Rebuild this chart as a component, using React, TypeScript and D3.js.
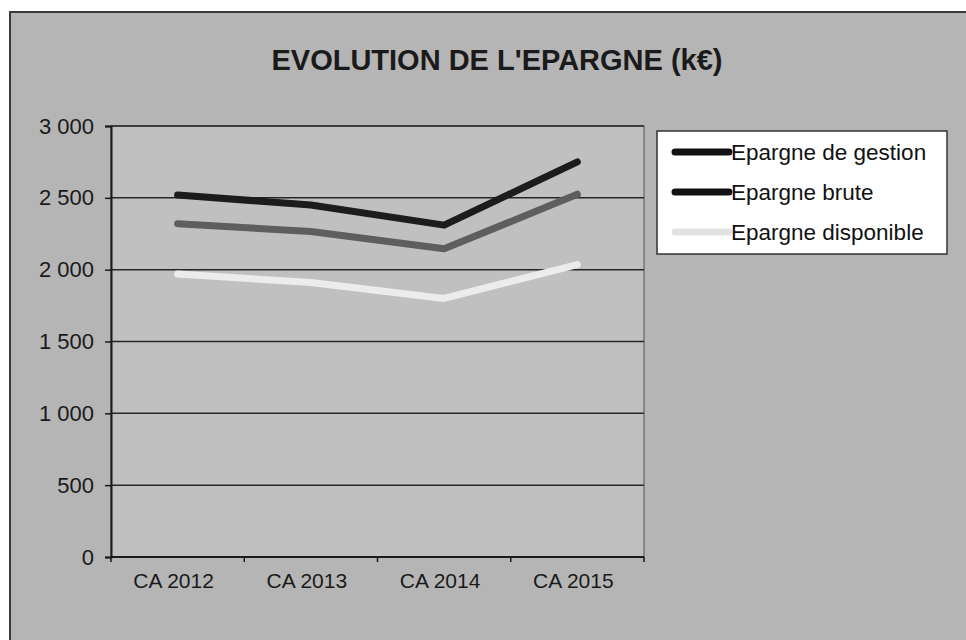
import React, { useEffect, useRef } from "react";
import * as d3 from "d3";

const categories = ["CA 2012", "CA 2013", "CA 2014", "CA 2015"];
const seriesNames = ["Epargne de gestion", "Epargne brute", "Epargne disponible"];
const gestion = [2520, 2450, 2310, 2750];
const brute = [2320, 2265, 2145, 2525];
const disponible = [1970, 1910, 1800, 2035];
const yTicks = [0, 500, 1000, 1500, 2000, 2500, 3000];

const lineColors = ["#1c1c1c", "#5e5e5e", "#ececec"];
const legendColors = ["#111111", "#111111", "#e2e2e2"];

const App = () => {
  const svgRef = useRef<SVGSVGElement>(null);

  useEffect(() => {
    const width = 966;
    const height = 640;
    const margin = { top: 126, right: 322, bottom: 83, left: 111 };

    const svg = d3.select(svgRef.current).attr("width", width).attr("height", height);
    svg.selectAll("*").remove();

    const font = "'Liberation Sans', Arial, sans-serif";

    // outer chart frame
    svg.append("rect").attr("x", 0).attr("y", 0).attr("width", width).attr("height", height).attr("fill", "#fff");
    svg
      .append("rect")
      .attr("x", 10)
      .attr("y", 12)
      .attr("width", width + 10)
      .attr("height", height)
      .attr("fill", "#b5b5b5")
      .attr("stroke", "#3a3a3a")
      .attr("stroke-width", 2);

    svg
      .append("text")
      .attr("x", 497)
      .attr("y", 70)
      .attr("text-anchor", "middle")
      .attr("font-family", font)
      .attr("font-weight", "bold")
      .attr("font-size", 29)
      .attr("fill", "#1a1a1a")
      .text("EVOLUTION DE L'EPARGNE (k€)");

    const x = d3
      .scaleBand()
      .domain(categories)
      .range([margin.left, width - margin.right]);
    const y = d3
      .scaleLinear()
      .domain([0, 3000])
      .range([height - margin.bottom, margin.top]);

    // plot area
    svg
      .append("rect")
      .attr("x", margin.left)
      .attr("y", margin.top)
      .attr("width", width - margin.right - margin.left)
      .attr("height", height - margin.bottom - margin.top)
      .attr("fill", "#c0c0c0")
      .attr("stroke", "#555")
      .attr("stroke-width", 1);

    svg
      .append("g")
      .selectAll("line")
      .data(yTicks)
      .enter()
      .append("line")
      .attr("x1", margin.left)
      .attr("x2", width - margin.right)
      .attr("y1", (d) => y(d))
      .attr("y2", (d) => y(d))
      .attr("stroke", "#262626")
      .attr("stroke-width", 1.5);

    const fmt = (d: number) => d3.format(",")(d).replace(",", " ");
    const yAxis = svg
      .append("g")
      .attr("transform", `translate(${margin.left},0)`)
      .call(d3.axisLeft(y).tickValues(yTicks).tickSize(6).tickPadding(11).tickFormat((d) => fmt(d as number)));
    yAxis.select(".domain").attr("stroke", "#1a1a1a").attr("stroke-width", 2);
    yAxis.selectAll(".tick line").attr("stroke", "#1a1a1a").attr("stroke-width", 1.5);
    yAxis
      .selectAll(".tick text")
      .attr("font-family", font)
      .attr("font-size", 22)
      .attr("fill", "#1a1a1a");

    const bounds = [...categories.map((c) => x(c) as number), width - margin.right];
    svg
      .append("line")
      .attr("x1", margin.left)
      .attr("x2", width - margin.right)
      .attr("y1", y(0))
      .attr("y2", y(0))
      .attr("stroke", "#1a1a1a")
      .attr("stroke-width", 2);
    svg
      .append("g")
      .selectAll("line")
      .data(bounds)
      .enter()
      .append("line")
      .attr("x1", (d) => d)
      .attr("x2", (d) => d)
      .attr("y1", y(0))
      .attr("y2", y(0) + 5)
      .attr("stroke", "#1a1a1a")
      .attr("stroke-width", 1.5);
    svg
      .append("g")
      .selectAll("text")
      .data(categories)
      .enter()
      .append("text")
      .attr("x", (d) => (x(d) as number) + x.bandwidth() / 2 - 4)
      .attr("y", y(0) + 31)
      .attr("text-anchor", "middle")
      .attr("font-family", font)
      .attr("font-size", 21)
      .attr("fill", "#1a1a1a")
      .text((d) => d);

    const series = [gestion, brute, disponible];
    const line = d3
      .line<number>()
      .x((_, i) => (x(categories[i]) as number) + x.bandwidth() / 2)
      .y((d) => y(d));

    [2, 1, 0].forEach((k) => {
      svg
        .append("path")
        .datum(series[k])
        .attr("d", line)
        .attr("fill", "none")
        .attr("stroke", lineColors[k])
        .attr("stroke-width", 7)
        .attr("stroke-linecap", "round")
        .attr("stroke-linejoin", "round");
    });

    // legend
    const lg = svg.append("g").attr("transform", "translate(657,131)");
    lg.append("rect")
      .attr("width", 290)
      .attr("height", 123)
      .attr("fill", "#fff")
      .attr("stroke", "#333")
      .attr("stroke-width", 1.5);
    seriesNames.forEach((name, i) => {
      const ly = 21 + i * 40;
      lg.append("line")
        .attr("x1", 18)
        .attr("x2", 72)
        .attr("y1", ly)
        .attr("y2", ly)
        .attr("stroke", legendColors[i])
        .attr("stroke-width", 7)
        .attr("stroke-linecap", "round");
      lg.append("text")
        .attr("x", 74)
        .attr("y", ly + 8)
        .attr("font-family", font)
        .attr("font-size", 22.5)
        .attr("fill", "#111")
        .text(name);
    });
  }, []);

  return <svg ref={svgRef} style={{ position: "absolute", left: 0, top: 0 }}></svg>;
};

export default App;
